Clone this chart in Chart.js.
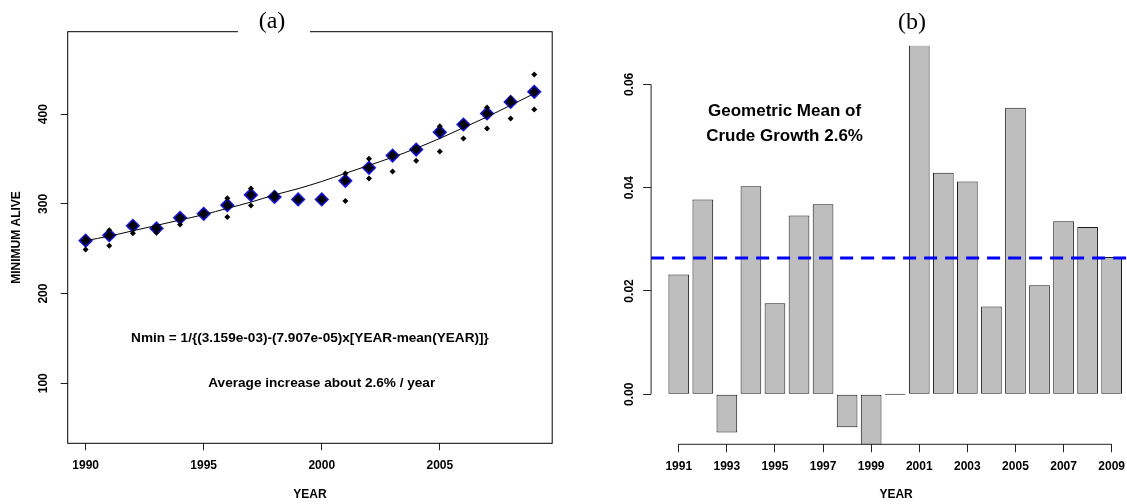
<!DOCTYPE html>
<html>
<head>
<meta charset="utf-8">
<title>Minimum alive and crude growth</title>
<script src="https://cdn.jsdelivr.net/npm/chart.js@4.4.1/dist/chart.umd.min.js"></script>
<style>
  html, body { margin: 0; padding: 0; background: #fff; overflow: hidden; }
  #wrap { position: relative; width: 1127px; height: 504px; overflow: hidden; }
  canvas { position: absolute; top: 0; }
  #left { left: 0; }
  #right { left: 560px; }
</style>
</head>
<body>
<div id="wrap">
  <canvas id="left" width="560" height="504"></canvas>
  <canvas id="right" width="600" height="504"></canvas>
</div>
<script>
// panel (a)
const years = [1990, 1991, 1992, 1993, 1994, 1995, 1996, 1997, 1998, 1999,
               2000, 2001, 2002, 2003, 2004, 2005, 2006, 2007, 2008, 2009];
const minAlive = [259, 265, 275.5, 272.6, 284.4, 288.9, 298.6, 310, 307.8, 304.9,
                  304.9, 325.7, 340.2, 353.9, 360.6, 380, 388.5, 400.8, 413.7, 424.9];
const lowerEst = [249.2, 253.2, 267.3, 268, 277, 287, 285.5, 298.2, 306, 304,
                  304, 303.2, 328.3, 336.1, 348, 358.4, 372.9, 384, 395.2, 405.2];
const upperEst = [262, 270.7, 278, 275, 286, 291, 306.4, 317.1, 311.6, 306,
                  306, 333.9, 350.2, 356, 362.9, 386.6, 391, 407.4, 417.5, 444.2];
const fitted = [259, 264, 270, 276, 282, 288, 295, 302, 310, 317,
                325, 334, 343, 352, 362, 373, 385, 397, 410, 423];
const leftXTicks = [1990, 1995, 2000, 2005];
const leftYTicks = [100, 200, 300, 400];

// panel (b)
const growthYears = [1991, 1992, 1993, 1994, 1995, 1996, 1997, 1998, 1999, 2000,
                     2001, 2002, 2003, 2004, 2005, 2006, 2007, 2008, 2009];
const crudeGrowth = [0.0232, 0.0377, -0.0074, 0.0403, 0.0176, 0.0346, 0.0368, -0.0064, -0.0100, 0,
                     0.0695, 0.0429, 0.0412, 0.0170, 0.0555, 0.0211, 0.0335, 0.0324, 0.0266];
const meanGrowth = 0.0264;
const rightXTicks = [1991, 1993, 1995, 1997, 1999, 2001, 2003, 2005, 2007, 2009];
const rightYTicks = [0, 0.02, 0.04, 0.06];

Chart.defaults.font.family = '"Liberation Sans", Arial, Helvetica, sans-serif';
Chart.defaults.color = '#000';

const tickFont = { size: 12, weight: 'bold' };
const sansBold = 'bold 12px "Liberation Sans", Arial, sans-serif';

function vText(ctx, text, cx, cy) {
  ctx.save();
  ctx.translate(cx, cy);
  ctx.rotate(-Math.PI / 2);
  ctx.textAlign = 'center';
  ctx.textBaseline = 'middle';
  ctx.fillText(text, 0, 0);
  ctx.restore();
}

const pts = (xs, ys) => xs.map((v, i) => ({ x: v, y: ys[i] }));

const leftDecor = {
  id: 'leftDecor',
  afterDraw(chart) {
    const { ctx, chartArea: a, scales: { x, y } } = chart;
    ctx.save();
    ctx.strokeStyle = '#000';
    ctx.lineWidth = 1;
    ctx.strokeRect(a.left, a.top, a.right - a.left, a.bottom - a.top);

    // white box behind the panel label breaks the top border
    ctx.fillStyle = '#fff';
    ctx.fillRect(238, a.top - 5, 72, 10);
    ctx.fillStyle = '#000';
    ctx.font = '24px "Liberation Serif", "Times New Roman", serif';
    ctx.textAlign = 'center';
    ctx.textBaseline = 'middle';
    ctx.fillText('(a)', 272, 22);

    ctx.font = sansBold;
    y.ticks.forEach(t => vText(ctx, String(t.value), 43.7, y.getPixelForValue(t.value)));
    vText(ctx, 'MINIMUM ALIVE', 17, (a.top + a.bottom) / 2);
    ctx.textAlign = 'center';
    ctx.textBaseline = 'middle';
    ctx.fillText('YEAR', (a.left + a.right) / 2, 495);

    ctx.font = 'bold 13.6px "Liberation Sans", Arial, sans-serif';
    ctx.fillText('Nmin = 1/{(3.159e-03)-(7.907e-05)x[YEAR-mean(YEAR)]}',
      x.getPixelForValue(1999.5), y.getPixelForValue(150));
    ctx.fillText('Average increase about 2.6% / year',
      x.getPixelForValue(2000), y.getPixelForValue(100));
    ctx.restore();
  }
};

new Chart(document.getElementById('left'), {
  type: 'scatter',
  data: {
    datasets: [
      {
        type: 'line',
        data: pts(years, fitted),
        borderColor: '#000',
        borderWidth: 1,
        pointRadius: 0,
        cubicInterpolationMode: 'monotone',
        fill: false
      },
      {
        data: pts(years, upperEst),
        pointStyle: 'rectRot',
        pointRadius: 3,
        backgroundColor: '#000',
        borderColor: '#000',
        borderWidth: 0
      },
      {
        data: pts(years, lowerEst),
        pointStyle: 'rectRot',
        pointRadius: 3,
        backgroundColor: '#000',
        borderColor: '#000',
        borderWidth: 0
      },
      {
        data: pts(years, minAlive),
        pointStyle: 'rectRot',
        pointRadius: 6.3,
        backgroundColor: '#000',
        borderColor: '#1010ff',
        borderWidth: 1.5
      }
    ]
  },
  options: {
    responsive: false,
    devicePixelRatio: 1,
    animation: false,
    layout: { padding: { top: 31.7, right: 2, bottom: 0, left: 0 } },
    plugins: { legend: { display: false }, tooltip: { enabled: false } },
    scales: {
      x: {
        type: 'linear',
        min: 1989.24,
        max: 2009.76,
        border: { display: false },
        grid: { drawOnChartArea: false, tickLength: 7, color: '#222' },
        ticks: { font: tickFont, padding: 8.5, callback: v => String(v) },
        afterBuildTicks: s => { s.ticks = leftXTicks.map(v => ({ value: v })); },
        afterFit: s => { s.height = 60.7; }
      },
      y: {
        min: 33,
        max: 492,
        border: { display: false },
        grid: { drawOnChartArea: false, tickLength: 7, color: '#222' },
        ticks: { display: false },
        afterBuildTicks: s => { s.ticks = leftYTicks.map(v => ({ value: v })); },
        afterFit: s => { s.width = 67.7; }
      }
    }
  },
  plugins: [leftDecor]
});

const rightDecor = {
  id: 'rightDecor',
  afterDatasetsDraw(chart) {
    const { ctx, chartArea: a, scales: { y } } = chart;
    const py = y.getPixelForValue(meanGrowth);
    ctx.save();
    ctx.strokeStyle = '#0000ff';
    ctx.lineWidth = 3;
    ctx.setLineDash([13, 8]);
    ctx.beginPath();
    ctx.moveTo(a.left, py);
    ctx.lineTo(a.right, py);
    ctx.stroke();
    ctx.restore();
  },
  afterDraw(chart) {
    const { ctx, chartArea: a, scales: { x, y } } = chart;
    ctx.save();
    ctx.strokeStyle = '#222';
    ctx.lineWidth = 1;
    ctx.beginPath();
    ctx.moveTo(x.getPixelForValue(rightXTicks[0]), a.bottom);
    ctx.lineTo(x.getPixelForValue(rightXTicks[rightXTicks.length - 1]), a.bottom);
    ctx.moveTo(a.left, y.getPixelForValue(rightYTicks[0]));
    ctx.lineTo(a.left, y.getPixelForValue(rightYTicks[rightYTicks.length - 1]));
    ctx.stroke();

    ctx.fillStyle = '#000';
    ctx.font = sansBold;
    y.ticks.forEach(t => vText(ctx, t.value.toFixed(2), 70, y.getPixelForValue(t.value)));
    ctx.textAlign = 'center';
    ctx.textBaseline = 'middle';
    ctx.fillText('YEAR', (a.left + a.right) / 2, 495);

    ctx.font = 'bold 17px "Liberation Sans", Arial, sans-serif';
    const tx = x.getPixelForValue(1995.4);
    ctx.fillText('Geometric Mean of', tx, 111.7);
    ctx.fillText('Crude Growth 2.6%', tx, 136.7);

    ctx.font = '24px "Liberation Serif", "Times New Roman", serif';
    ctx.fillText('(b)', 352, 23);
    ctx.restore();
  }
};

new Chart(document.getElementById('right'), {
  type: 'bar',
  data: {
    datasets: [{
      data: pts(growthYears, crudeGrowth),
      backgroundColor: '#bebebe',
      borderColor: '#1a1a1a',
      borderWidth: 1,
      borderSkipped: false,
      minBarLength: 1,
      barPercentage: 0.86,
      categoryPercentage: 1
    }]
  },
  options: {
    responsive: false,
    devicePixelRatio: 1,
    animation: false,
    layout: { padding: { top: 45.7, right: 19, bottom: 0, left: 0 } },
    plugins: { legend: { display: false }, tooltip: { enabled: false } },
    scales: {
      x: {
        type: 'linear',
        min: 1989.85,
        max: 2010.22,
        offset: false,
        border: { display: false },
        grid: { offset: false, drawOnChartArea: false, tickLength: 8, color: '#222' },
        ticks: { font: tickFont, padding: 7, callback: v => String(v) },
        afterBuildTicks: s => { s.ticks = rightXTicks.map(v => ({ value: v })); },
        afterFit: s => { s.height = 59.7; }
      },
      y: {
        min: -0.0097,
        max: 0.0675,
        border: { display: false },
        grid: { drawOnChartArea: false, tickLength: 8, color: '#222' },
        ticks: { display: false },
        afterBuildTicks: s => { s.ticks = rightYTicks.map(v => ({ value: v })); },
        afterFit: s => { s.width = 91.1; }
      }
    }
  },
  plugins: [rightDecor]
});
</script>
</body>
</html>
